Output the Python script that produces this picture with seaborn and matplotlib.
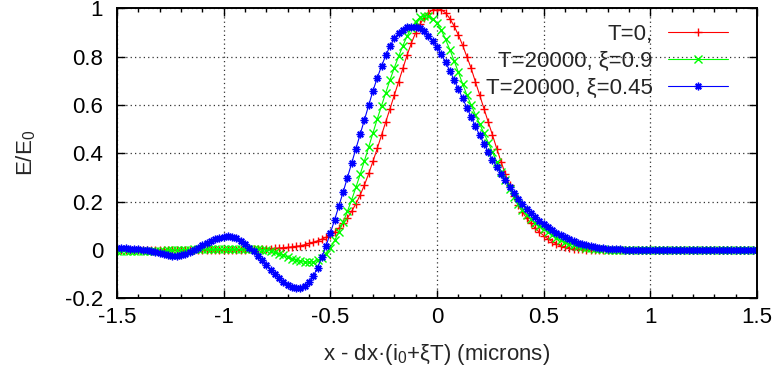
import numpy as np
import seaborn as sns
import matplotlib
matplotlib.use('Agg')
import matplotlib.pyplot as plt
from matplotlib.ticker import MultipleLocator, FuncFormatter

# sample grid, step 0.02 microns
x_microns = np.round(np.linspace(-1.5, 1.5, 151), 2)

# T=0
e_t0 = [0.0] * 25 + [
    0.001, 0.001, 0.001, 0.002, 0.002, 0.002, 0.003, 0.003, 0.004, 0.005,   # -1.00
    0.005, 0.006, 0.007, 0.008, 0.010, 0.011, 0.013, 0.015, 0.018, 0.022,   # -0.80
    0.027, 0.032, 0.038, 0.045, 0.053, 0.062, 0.074, 0.090, 0.110, 0.133,   # -0.60
    0.160, 0.192, 0.228, 0.270, 0.317, 0.368, 0.421, 0.476, 0.530, 0.585,   # -0.40
    0.640, 0.697, 0.752, 0.808, 0.857, 0.900, 0.935, 0.962, 0.982, 0.995,   # -0.20
    1.000, 0.995, 0.982, 0.958, 0.928, 0.890, 0.848, 0.800, 0.752, 0.697,   # 0.00
    0.641, 0.585, 0.530, 0.476, 0.420, 0.366, 0.315, 0.268, 0.225, 0.188,   # 0.20
    0.158, 0.132, 0.110, 0.090, 0.074, 0.060, 0.046, 0.035, 0.025, 0.018,   # 0.40
    0.012, 0.008, 0.005, 0.004, 0.003, 0.002, 0.001, 0.001,                 # 0.60
] + [0.0] * 38

# T=20000, xi=0.9
e_xi090 = [
    -0.003, -0.003, -0.004, -0.004, -0.004, -0.005, -0.005, -0.005, -0.005, -0.004,  # -1.50
    -0.004, -0.003, -0.002, -0.001, 0.000, 0.001, 0.002, 0.002, 0.003, 0.003,       # -1.30
    0.003, 0.003, 0.003, 0.003, 0.003, 0.003, 0.003, 0.003, 0.004, 0.004,           # -1.10
    0.005, 0.005, 0.005, 0.004, 0.002, 0.000, -0.004, -0.010, -0.016, -0.022,       # -0.90
    -0.029, -0.036, -0.042, -0.047, -0.050, -0.051, -0.049, -0.043, -0.032, -0.015, # -0.70
    0.010, 0.040, 0.075, 0.116, 0.160, 0.208, 0.260, 0.314, 0.370, 0.428,           # -0.50
    0.486, 0.543, 0.598, 0.652, 0.705, 0.755, 0.802, 0.846, 0.886, 0.920,           # -0.30
    0.946, 0.963, 0.970, 0.968, 0.956, 0.938, 0.910, 0.872, 0.830, 0.784,           # -0.10
    0.736, 0.688, 0.642, 0.600, 0.560, 0.522, 0.483, 0.445, 0.405, 0.365,           # 0.10
    0.325, 0.288, 0.253, 0.220, 0.191, 0.166, 0.145, 0.127, 0.112, 0.099,           # 0.30
    0.088, 0.075, 0.062, 0.050, 0.040, 0.032, 0.025, 0.020, 0.016, 0.012,           # 0.50
    0.009, 0.007, 0.005, 0.004, 0.003, 0.002, 0.002, 0.001, 0.001,                  # 0.70
] + [0.0] * 32

# T=20000, xi=0.45
e_xi045 = [
    0.008, 0.008, 0.007, 0.006, 0.005, 0.003, 0.001, -0.002, -0.005, -0.009,        # -1.50
    -0.013, -0.018, -0.022, -0.024, -0.024, -0.021, -0.015, -0.008, 0.000, 0.009,   # -1.30
    0.019, 0.028, 0.037, 0.045, 0.051, 0.055, 0.056, 0.054, 0.048, 0.038,           # -1.10
    0.025, 0.010, -0.006, -0.024, -0.043, -0.062, -0.081, -0.099, -0.116, -0.131,   # -0.90
    -0.144, -0.154, -0.159, -0.158, -0.150, -0.134, -0.108, -0.073, -0.030, 0.018,  # -0.70
    0.070, 0.125, 0.182, 0.240, 0.300, 0.360, 0.420, 0.480, 0.540, 0.600,           # -0.50
    0.660, 0.713, 0.762, 0.806, 0.845, 0.876, 0.898, 0.913, 0.922, 0.925,           # -0.30
    0.924, 0.918, 0.906, 0.888, 0.866, 0.840, 0.810, 0.777, 0.742, 0.705,           # -0.10
    0.667, 0.628, 0.589, 0.550, 0.512, 0.475, 0.440, 0.406, 0.374, 0.344,           # 0.10
    0.316, 0.290, 0.262, 0.236, 0.212, 0.190, 0.170, 0.153, 0.137, 0.122,           # 0.30
    0.108, 0.095, 0.083, 0.071, 0.061, 0.052, 0.044, 0.036, 0.030, 0.025,           # 0.50
    0.020, 0.016, 0.013, 0.010, 0.008, 0.006, 0.005, 0.004, 0.003, 0.002, 0.002, 0.001, 0.001,  # 0.70
] + [0.0] * 28

labels = ['T=0,', 'T=20000, ξ=0.9', 'T=20000, ξ=0.45']
colors = ['#ff0000', '#00ff00', '#0000ff']
markers = ['+', 'x', (8, 2, 0)]

sns.set_style('ticks')
plt.rcParams['font.family'] = ['Liberation Sans', 'DejaVu Sans']
plt.rcParams['mathtext.default'] = 'regular'
plt.rcParams['axes.unicode_minus'] = False

fig, ax = plt.subplots(figsize=(7.77, 3.76), dpi=100)
fig.subplots_adjust(left=0.1506, right=0.9743, top=0.9774, bottom=0.2066)

for ys, lab, col, mk in zip([e_t0, e_xi090, e_xi045], labels, colors, markers):
    sns.lineplot(x=x_microns, y=ys, color=col, marker=mk, markersize=5.5,
                 markeredgewidth=1, markeredgecolor=col, linewidth=0.8,
                 label=lab, ax=ax)

ax.set_xlim(-1.5, 1.5)
ax.set_ylim(-0.2, 1)
ax.set_xticks(np.arange(-1.5, 1.51, 0.5))
ax.set_yticks(np.arange(-0.2, 1.01, 0.2))
ax.xaxis.set_minor_locator(MultipleLocator(0.1))
fmt = FuncFormatter(lambda v, p: f'{round(v, 2) + 0:g}')
ax.xaxis.set_major_formatter(fmt)
ax.yaxis.set_major_formatter(fmt)

ax.tick_params(which='both', direction='in', top=True, right=True, width=1, colors='black', labelsize=16)
ax.tick_params(which='major', length=6)
ax.tick_params(which='minor', length=3)
ax.tick_params(axis='y', pad=10)
ax.tick_params(axis='x', pad=6)
ax.grid(True, which='major', color='#333333', linestyle=(0, (1, 2.5)), linewidth=0.9)
for s in ax.spines.values():
    s.set_linewidth(1.4)
    s.set_color('black')

ax.set_xlabel('x - dx·(i$_0$+ξT) (microns)', fontsize=16, labelpad=10)
ax.set_ylabel('E/E$_0$', fontsize=16, labelpad=19)

ax.legend(loc='upper right', bbox_to_anchor=(0.955, 0.948), frameon=False,
          markerfirst=False, handlelength=2.7, handletextpad=0.7,
          labelspacing=0.28, borderpad=0, borderaxespad=0, fontsize=16)

fig.savefig('out.png', dpi=100)
